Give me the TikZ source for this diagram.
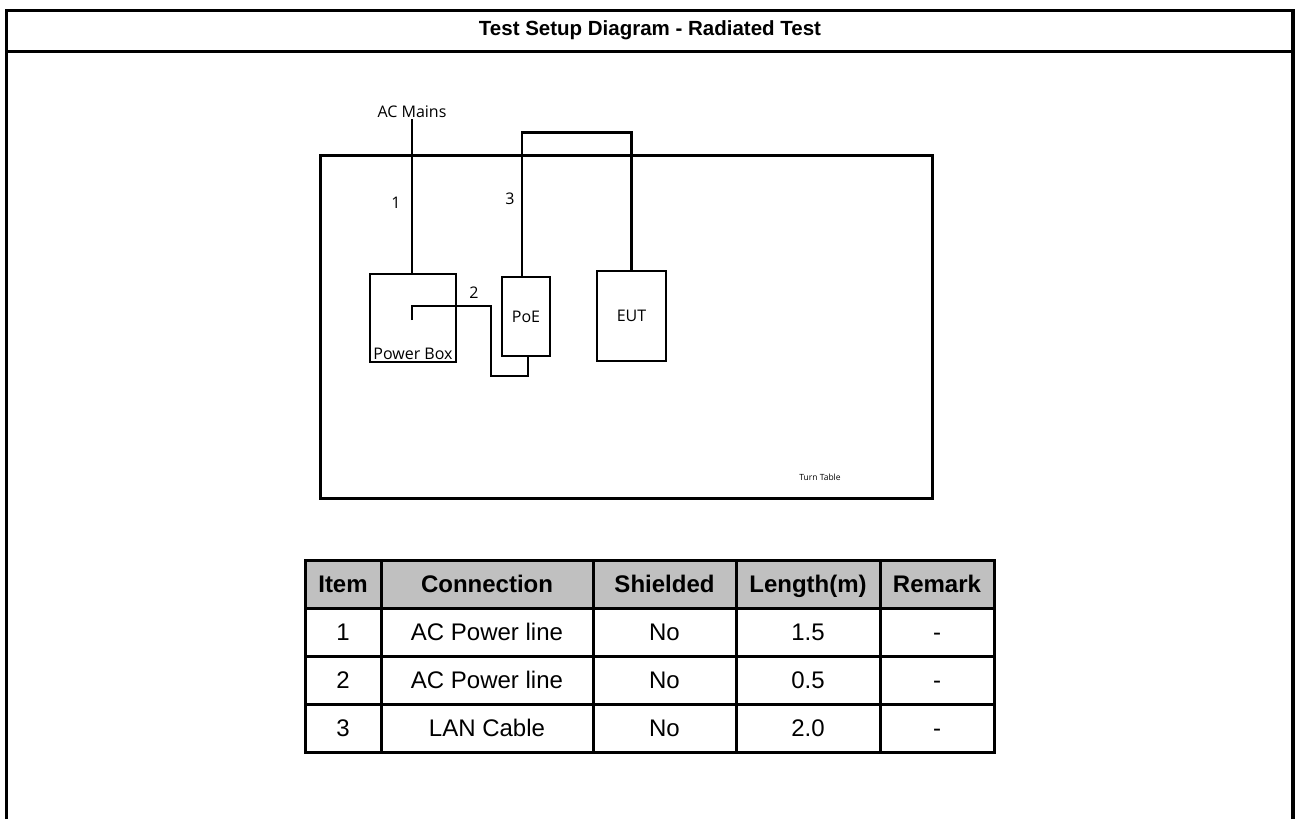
\documentclass[tikz,border=0pt]{standalone}
\usepackage{fontspec}
\setmainfont{Liberation Sans}
\newfontfamily\sketchfont{Open Sans}
\usepackage{xcolor}
\usetikzlibrary{positioning,calc}
\definecolor{hdr}{HTML}{C0C0C0}

\begin{document}
\begin{tikzpicture}[
  x=1pt, y=-1pt,
  frm/.style  ={line width=3.5pt},
  tt/.style   ={draw, line width=3pt, inner sep=0pt},
  unit/.style ={draw, line width=2.7pt, inner sep=0pt,
                font=\sketchfont\fontsize{16}{19}\selectfont},
  cable/.style={line width=2.7pt},
  lab/.style  ={font=\sketchfont\fontsize{16}{19}\selectfont, inner sep=1pt},
  tline/.style={line width=3pt},
  cell/.style ={font=\fontsize{24}{28}\selectfont, inner sep=0pt,
                text height=17.2pt, text depth=0pt},
  hcell/.style={cell, font=\bfseries\fontsize{24}{28}\selectfont}]

\useasboundingbox (0,0) rectangle (1295,819);

\draw[frm] (6.5,819) -- (6.5,10.5) -- (1293,10.5) -- (1293,819);
\draw[frm] (6.5,51.5) -- (1293,51.5);
\node[font=\bfseries\fontsize{20.5}{24}\selectfont] (title) at (650,30)
  {Test Setup Diagram - Radiated Test};

\node[tt, minimum width=612pt, minimum height=343pt] (turn) at (626.5,327) {};
\node[font=\sketchfont\fontsize{8.5}{10}\selectfont] (turnl) at (820,477) {Turn Table};

\node[unit, minimum width=86pt, minimum height=88pt] (pwr) at (413,318) {};
\node[lab, above=2pt of pwr.south] (pwrl) {Power Box};
\node[unit, minimum width=48pt, minimum height=79pt] (poe) at (526,316.5) {PoE};
\node[unit, minimum width=69pt, minimum height=90pt] (eut) at (631.5,316) {EUT};
\node[lab] (acm) at (412,112) {AC Mains};

\draw[cable] (acm.south) -- (acm.south |- pwr.north);
\node[lab] (n1) at (396,203) {1};
\coordinate (c2) at (412,320);
\draw[cable] (c2) -- ++(0,-14) -| (491,376) -| ([xshift=2pt]poe.south);
\node[lab] (n2) at (474,293) {2};
\draw[cable] ([xshift=-4pt]poe.north) -- ++(0,-143) -| (eut.north);
\node[lab] (n3) at (510,199) {3};

\fill[hdr] (305,560) rectangle (994,608);
\draw[tline] (305,560) rectangle (994,752);
\foreach \y in {608,656,704}
  \draw[tline] (305,\y) -- (994,\y);
\foreach \x in {381,593,736,880}
  \draw[tline] (\x,560) -- (\x,752);

\foreach \cx/\t [count=\i] in {343/Item, 487/Connection, 664.5/Shielded,
                              808/Length(m), 937/Remark}
  \node[hcell] (h\i) at (\cx,584) {\t};
\foreach \cy/\itm/\con/\len [count=\r] in {632/1/AC Power line/1.5,
    680/2/AC Power line/0.5, 728/3/LAN Cable/2.0} {
  \node[cell] (i\r) at (343,\cy) {\itm};
  \node[cell] (c\r) at (487,\cy) {\con};
  \node[cell] (s\r) at (664.5,\cy) {No};
  \node[cell] (l\r) at (808,\cy) {\len};
  \node[cell] (m\r) at (937,\cy) {-};
}
\end{tikzpicture}
\end{document}
